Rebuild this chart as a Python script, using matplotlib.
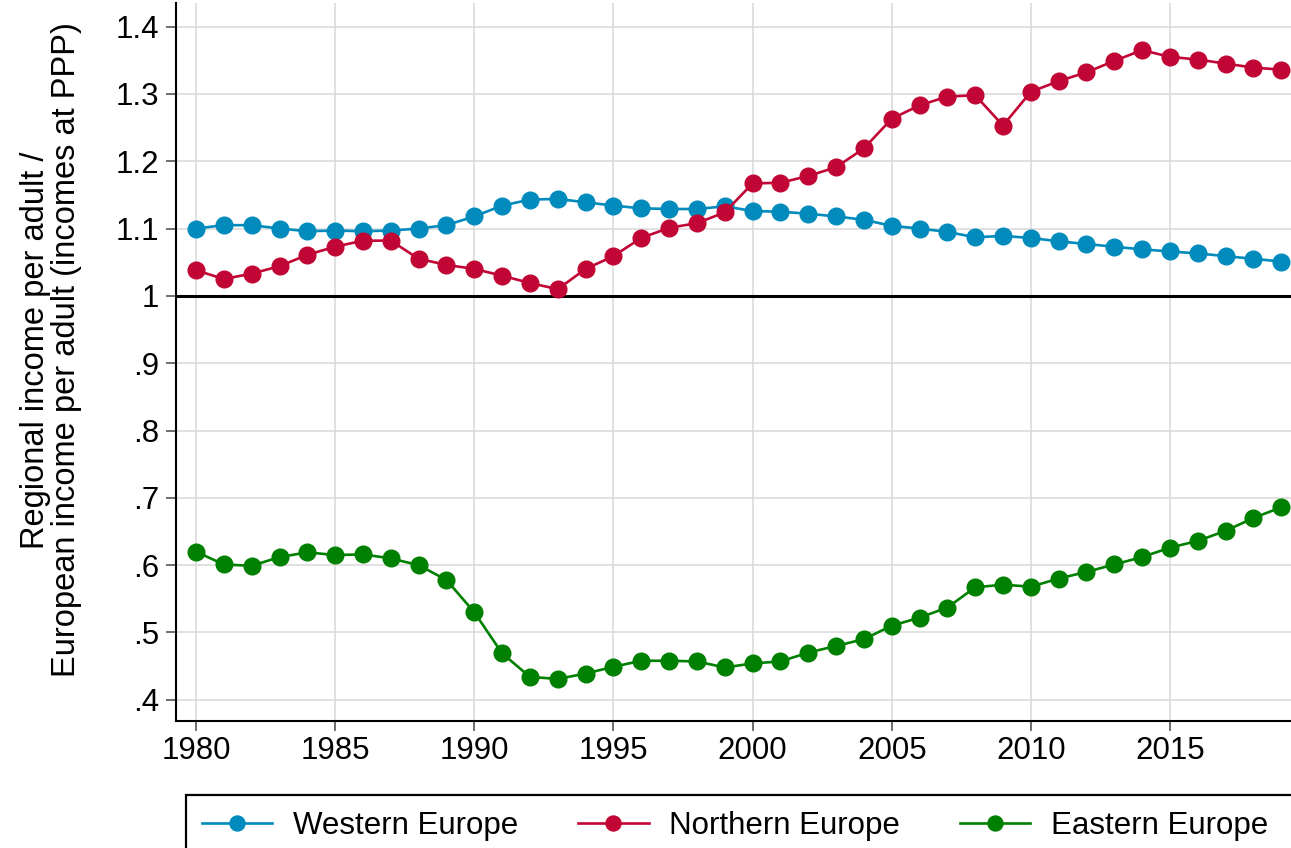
import matplotlib
matplotlib.use("Agg")
import matplotlib.pyplot as plt
from matplotlib.patches import Rectangle

plt.rcParams['font.family'] = ['Liberation Sans', 'DejaVu Sans']

years = list(range(1980, 2020))

western = [1.100, 1.105, 1.105, 1.100, 1.096, 1.097, 1.096, 1.097, 1.100, 1.105,
           1.118, 1.134, 1.143, 1.144, 1.139, 1.134, 1.130, 1.129, 1.129, 1.133,
           1.126, 1.125, 1.122, 1.118, 1.113, 1.104, 1.100, 1.095, 1.087, 1.089,
           1.086, 1.081, 1.077, 1.073, 1.069, 1.066, 1.063, 1.059, 1.055, 1.051]

northern = [1.038, 1.025, 1.033, 1.044, 1.061, 1.073, 1.082, 1.082, 1.055, 1.046,
            1.040, 1.030, 1.019, 1.010, 1.040, 1.059, 1.086, 1.101, 1.108, 1.124,
            1.167, 1.168, 1.178, 1.191, 1.219, 1.263, 1.283, 1.296, 1.298, 1.253,
            1.303, 1.319, 1.332, 1.349, 1.365, 1.355, 1.351, 1.345, 1.339, 1.336]

eastern = [0.620, 0.601, 0.599, 0.612, 0.619, 0.615, 0.616, 0.610, 0.600, 0.578,
           0.530, 0.469, 0.434, 0.431, 0.439, 0.449, 0.458, 0.458, 0.457, 0.448,
           0.454, 0.457, 0.470, 0.480, 0.490, 0.510, 0.522, 0.537, 0.567, 0.571,
           0.568, 0.580, 0.590, 0.601, 0.612, 0.626, 0.636, 0.651, 0.670, 0.686]

series_names = ['Western Europe', 'Northern Europe', 'Eastern Europe']
series_colors = ['#008bbc', '#c10534', '#008000']

yticks = [1.4, 1.3, 1.2, 1.1, 1.0, 0.9, 0.8, 0.7, 0.6, 0.5, 0.4]
ytick_labels = ['1.4', '1.3', '1.2', '1.1', '1', '.9', '.8', '.7', '.6', '.5', '.4']
xticks = [1980, 1985, 1990, 1995, 2000, 2005, 2010, 2015]

fig = plt.figure(figsize=(12.91, 8.48), dpi=100)
ax = fig.add_axes([176/1291, 127/848, 1 - 176/1291, (721 - 3)/848])

for vals, name, col in zip([western, northern, eastern], series_names, series_colors):
    ax.plot(years, vals, '-o', color=col, lw=1.9, ms=12, label=name, zorder=3, clip_on=False)

ax.axhline(1.0, color='black', lw=2.2, zorder=2)

ax.set_xlim(1979.28, 2019.35)
ax.set_ylim(0.3685, 1.435)
ax.set_xticks(xticks)
ax.set_yticks(yticks)
ax.set_yticklabels(ytick_labels)
ax.grid(True, color='#d9d9d9', lw=1.1, zorder=0)
ax.set_axisbelow(True)

#去掉上边和右边
ax.spines['right'].set_color('none')
ax.spines['top'].set_color('none')
ax.spines['left'].set_linewidth(1.5)
ax.spines['bottom'].set_linewidth(1.5)
ax.tick_params(axis='both', labelsize=22.5, length=7, width=1.2, color='#555555')
ax.tick_params(axis='x', pad=4)
ax.tick_params(axis='y', pad=5)

ax.set_ylabel('Regional income per adult /\nEuropean income per adult (incomes at PPP)',
              fontsize=23.5, labelpad=24, linespacing=1.0, y=0.517)

# legend box, runs off the edge like the original
fig.patches.append(Rectangle((186/1291, -0.05), 1.0, 53/848 + 0.05,
                             transform=fig.transFigure, fill=False,
                             edgecolor='black', lw=1.6))
handles, labels = ax.get_legend_handles_labels()
fig.legend(handles, labels, loc='center left', bbox_to_anchor=(202/1291, 22/848),
           ncol=3, frameon=False, fontsize=22.5, handlelength=2.25,
           columnspacing=1.93, handletextpad=0.65, markerscale=0.9,
           borderpad=0.0, borderaxespad=0.0)

fig.savefig('out.png', dpi=100)
